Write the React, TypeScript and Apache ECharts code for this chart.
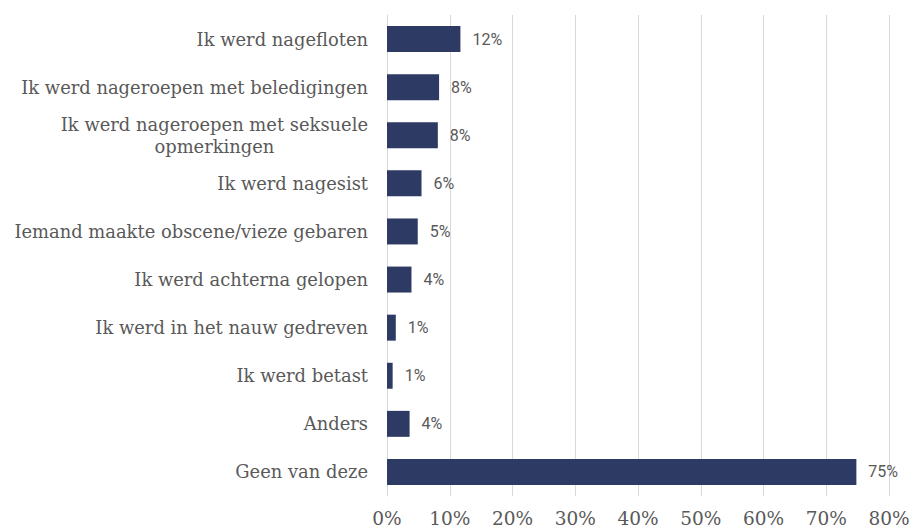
import React, { useEffect, useRef } from "react";
import * as echarts from "echarts";

const categories = [
  "Ik werd nagefloten",
  "Ik werd nageroepen met beledigingen",
  "Ik werd nageroepen met seksuele\nopmerkingen",
  "Ik werd nagesist",
  "Iemand maakte obscene/vieze gebaren",
  "Ik werd achterna gelopen",
  "Ik werd in het nauw gedreven",
  "Ik werd betast",
  "Anders",
  "Geen van deze",
];
const values = [11.7, 8.3, 8.1, 5.5, 4.9, 3.9, 1.4, 0.9, 3.6, 74.8];
const valueLabels = ["12%", "8%", "8%", "6%", "5%", "4%", "1%", "1%", "4%", "75%"];
const xMin = 0;
const xMax = 80;
const xStep = 10;

export default function App() {
  const ref = useRef<HTMLDivElement>(null);
  useEffect(() => {
    if (!ref.current) return;
    const chart = echarts.init(ref.current, null, { renderer: "svg" });
    chart.setOption({
      animation: false,
      backgroundColor: "#ffffff",
      grid: { left: 387, right: 24, top: 15, bottom: 32, containLabel: false },
      xAxis: {
        type: "value",
        min: xMin,
        max: xMax,
        interval: xStep,
        axisLine: { show: false },
        axisTick: { show: false },
        splitLine: { show: true, lineStyle: { color: "#d9d9d9", width: 1 } },
        axisLabel: {
          formatter: "{value}%",
          fontFamily: "DejaVu Serif",
          fontSize: 18.5,
          color: "#595959",
          margin: 13,
        },
      },
      yAxis: {
        type: "category",
        inverse: true,
        data: categories,
        axisLine: { show: true, lineStyle: { color: "#d9d9d9", width: 1 } },
        axisTick: { show: false },
        axisLabel: {
          margin: 19,
          formatter: (v: string) =>
            v
              .split("\n")
              .map((l) => "{c|" + l + "}")
              .join("\n"),
          rich: {
            c: {
              align: "center",
              fontFamily: "DejaVu Serif",
              fontSize: 17.9,
              color: "#595959",
              lineHeight: 22,
            },
          },
        },
      },
      series: [
        {
          type: "bar",
          data: values,
          barWidth: "54%",
          itemStyle: { color: "#2d3b64" },
          label: {
            show: true,
            position: "right",
            distance: 12,
            formatter: (p: any) => valueLabels[p.dataIndex],
            fontFamily: "Roboto",
            fontSize: 16,
            color: "#595959",
          },
        },
      ],
    });
    return () => chart.dispose();
  }, []);
  return (
    <div
      ref={ref}
      style={{ position: "fixed", left: 0, top: 0, width: 913, height: 528 }}
    />
  );
}
